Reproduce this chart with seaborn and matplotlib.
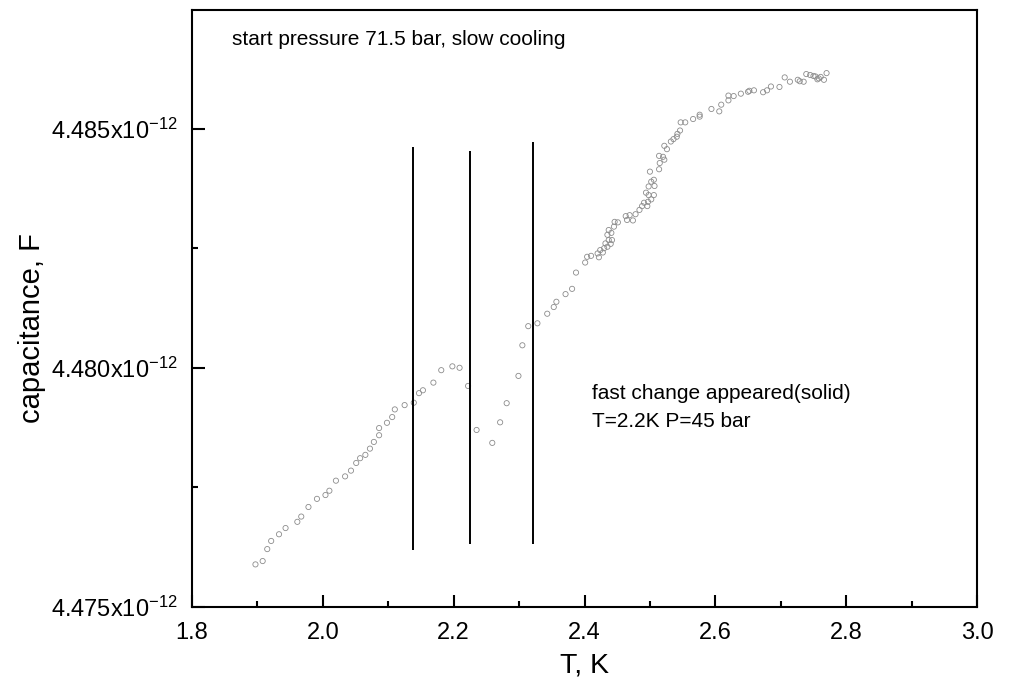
import numpy as np
import pandas as pd
import seaborn as sns
import matplotlib
matplotlib.use("Agg")
import matplotlib.pyplot as plt
from matplotlib import font_manager
from matplotlib.ticker import MultipleLocator, FuncFormatter

# temperature, K
T = [1.897, 1.908, 1.915, 1.921, 1.933, 1.943, 1.961, 1.967, 1.978, 1.991,
     2.004, 2.010, 2.020, 2.034, 2.043, 2.051, 2.057, 2.065, 2.072, 2.078,
     2.086, 2.086, 2.098, 2.106, 2.110, 2.125, 2.139, 2.147, 2.153, 2.169,
     2.181, 2.198, 2.209, 2.222, 2.235, 2.259, 2.271, 2.281, 2.299, 2.305,
     2.314, 2.328, 2.343, 2.353, 2.357, 2.371, 2.381, 2.387, 2.401, 2.404,
     2.410, 2.420, 2.422, 2.424, 2.428, 2.430, 2.432, 2.435, 2.437, 2.440,
     2.442, 2.435, 2.437, 2.441, 2.445, 2.446, 2.451, 2.463, 2.465, 2.469,
     2.474, 2.478, 2.484, 2.488, 2.491, 2.496, 2.497, 2.494, 2.498, 2.502,
     2.506, 2.498, 2.502, 2.506, 2.507, 2.500, 2.514, 2.515, 2.514, 2.520,
     2.522, 2.522, 2.526, 2.532, 2.536, 2.541, 2.542, 2.546, 2.547, 2.554,
     2.566, 2.576, 2.576, 2.594, 2.606, 2.609, 2.620, 2.620, 2.628, 2.639,
     2.650, 2.652, 2.659, 2.673, 2.679, 2.685, 2.698, 2.706, 2.714, 2.726,
     2.729, 2.735, 2.739, 2.745, 2.753, 2.756, 2.761, 2.766, 2.770, 2.750,
     2.758]

# capacitance, pF
C = [4.47589, 4.47596, 4.47621, 4.47638, 4.47652, 4.47665, 4.47678, 4.47689, 4.47709, 4.47726,
     4.47734, 4.47743, 4.47764, 4.47773, 4.47785, 4.47801, 4.47811, 4.47818, 4.47831, 4.47845,
     4.47859, 4.47874, 4.47885, 4.47897, 4.47913, 4.47922, 4.47927, 4.47947, 4.47953, 4.47969,
     4.47995, 4.48003, 4.48000, 4.47962, 4.47870, 4.47843, 4.47886, 4.47926, 4.47983, 4.48047,
     4.48087, 4.48093, 4.48113, 4.48127, 4.48138, 4.48154, 4.48165, 4.48199, 4.48220, 4.48232,
     4.48234, 4.48239, 4.48231, 4.48246, 4.48241, 4.48250, 4.48260, 4.48253, 4.48267, 4.48259,
     4.48267, 4.48278, 4.48288, 4.48282, 4.48295, 4.48305, 4.48304, 4.48317, 4.48309, 4.48319,
     4.48308, 4.48321, 4.48330, 4.48338, 4.48345, 4.48338, 4.48347, 4.48366, 4.48361, 4.48352,
     4.48361, 4.48379, 4.48389, 4.48393, 4.48380, 4.48410, 4.48415, 4.48428, 4.48443, 4.48441,
     4.48435, 4.48464, 4.48457, 4.48473, 4.48478, 4.48483, 4.48489, 4.48496, 4.48513, 4.48513,
     4.48520, 4.48525, 4.48529, 4.48541, 4.48536, 4.48550, 4.48559, 4.48569, 4.48568, 4.48573,
     4.48577, 4.48579, 4.48580, 4.48576, 4.48580, 4.48588, 4.48587, 4.48607, 4.48598, 4.48602,
     4.48599, 4.48598, 4.48614, 4.48612, 4.48609, 4.48603, 4.48608, 4.48602, 4.48616, 4.48610,
     4.48605]

# three vertical marker lines
line_T = [2.1384, 2.2256, 2.3214]
line_lo = [4.47620, 4.47632, 4.47631]
line_hi = [4.48461, 4.48454, 4.48472]

df = pd.DataFrame({"T": T, "C": np.array(C) * 1e-12})

sns.set_style("ticks")
plt.rcParams['font.family'] = ['Liberation Sans', 'DejaVu Sans']
plt.rcParams['mathtext.fontset'] = 'custom'
plt.rcParams['mathtext.rm'] = 'Liberation Sans'
plt.rcParams['mathtext.it'] = 'Liberation Sans:italic'
for key in ['text.color', 'axes.labelcolor', 'xtick.color', 'ytick.color', 'axes.edgecolor']:
    plt.rcParams[key] = 'black'

installed = {f.name for f in font_manager.fontManager.ttflist}
narrow = 'Liberation Sans Narrow' if 'Liberation Sans Narrow' in installed else 'Liberation Sans'

fig = plt.figure(figsize=(10.09, 6.91), dpi=100)
ax = fig.add_axes([0.1903, 0.1216, 0.778, 0.864])

sns.scatterplot(data=df, x="T", y="C", ax=ax, marker="o", s=14,
                facecolors="none", edgecolor="#8c8c8c", linewidth=0.6)
ax.vlines(line_T, np.array(line_lo) * 1e-12, np.array(line_hi) * 1e-12,
          color="black", linewidth=1.4)

ax.set_xlim(1.8, 3.0)
ax.set_ylim(4.475e-12, 4.48748e-12)
ax.xaxis.set_major_locator(MultipleLocator(0.2))
ax.xaxis.set_minor_locator(MultipleLocator(0.1))
ax.yaxis.set_major_locator(MultipleLocator(0.005e-12))
ax.yaxis.set_minor_locator(MultipleLocator(0.0025e-12))
ax.xaxis.set_major_formatter(FuncFormatter(lambda v, p: f"{v:.1f}"))
ax.yaxis.set_major_formatter(FuncFormatter(
    lambda v, p: f"{v * 1e12:.3f}x10$\\mathregular{{^{{-12}}}}$"))

ax.tick_params(which="major", direction="in", length=9, width=1.5)
ax.tick_params(which="minor", direction="in", length=4.5, width=1.5)
ax.tick_params(axis="y", labelsize=17, pad=10)
ax.tick_params(axis="x", labelsize=17, pad=11)
for lab in ax.get_xticklabels():
    lab.set_fontfamily(narrow)
for sp in ax.spines.values():
    sp.set_linewidth(1.5)
    sp.set_color("black")

ax.set_xlabel("T, K", fontsize=20.5, labelpad=6)
ax.set_ylabel("capacitance, F", fontsize=21)
ax.yaxis.set_label_coords(-0.186, 0.467)

ax.text(0.051, 0.95, "start pressure 71.5 bar, slow cooling", transform=ax.transAxes,
        fontsize=15, va="center", ha="left")
ax.text(0.51, 0.358, "fast change appeared(solid)", transform=ax.transAxes,
        fontsize=15, va="center", ha="left")
ax.text(0.51, 0.31, "T=2.2K P=45 bar", transform=ax.transAxes,
        fontsize=15, va="center", ha="left")

fig.savefig("out.png", dpi=100)
